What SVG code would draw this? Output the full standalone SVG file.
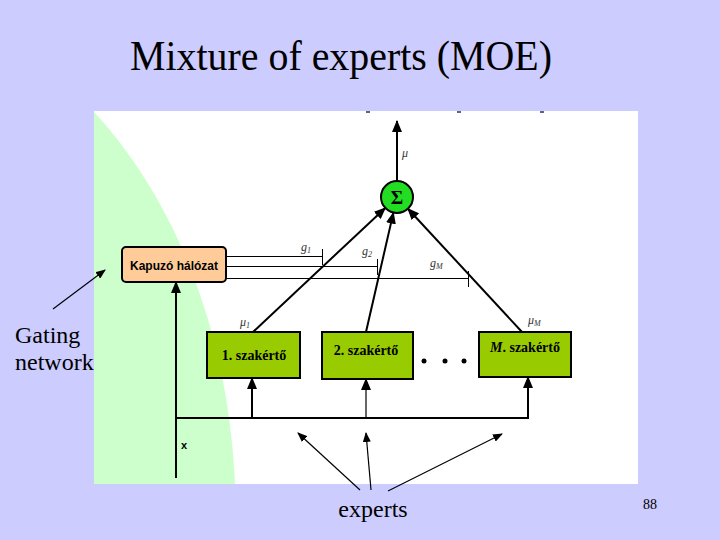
<svg xmlns="http://www.w3.org/2000/svg" width="720" height="540" viewBox="0 0 720 540">
<defs>
<marker id="ah" markerUnits="userSpaceOnUse" markerWidth="12" markerHeight="10" refX="11" refY="5" orient="auto">
<path d="M0,0 L12,5 L0,10 Z" fill="#000"/>
</marker>
<marker id="ahs" markerUnits="userSpaceOnUse" markerWidth="10" markerHeight="8" refX="9" refY="4" orient="auto">
<path d="M0,0 L10,4 L0,8 Z" fill="#000"/>
</marker>
<style>
.serif{font-family:"Liberation Serif","Times New Roman",serif;fill:#000}
.sans{font-family:"Liberation Sans",Arial,sans-serif;fill:#000}
.expert{fill:#99CC00;stroke:#000;stroke-width:2}
.thick{stroke:#000;stroke-width:2;fill:none}
.thin{stroke:#000;stroke-width:1.2;fill:none}
.gate{stroke:#000;stroke-width:1;fill:none}
.lbl{font-family:"Liberation Serif","Times New Roman",serif;font-style:italic;font-size:12px;fill:#333}
.sub{font-size:8px}
.etxt{font-family:"Liberation Serif","Times New Roman",serif;font-weight:bold;font-size:14px;fill:#000}
</style>
</defs>
<rect x="0" y="0" width="720" height="540" fill="#CCCCFF"/>
<rect x="94" y="111" width="544" height="373" fill="#FFFFFF"/>
<path d="M94,112 C175,200 228,330 235,484 L94,484 Z" fill="#CCFFCC"/>
<g id="artifacts" fill="#556688">
<rect x="366" y="111" width="4" height="2"/>
<rect x="457" y="111" width="4" height="2"/>
<rect x="540" y="111" width="4" height="2"/>
</g>
<text class="serif" x="130" y="70" font-size="42" textLength="422" lengthAdjust="spacingAndGlyphs">Mixture of experts (MOE)</text>

<g id="connectors">
<line class="thick" x1="397" y1="181" x2="397" y2="121" marker-end="url(#ah)"/>
<line class="thick" x1="253" y1="332" x2="385.3" y2="207.9" marker-end="url(#ah)"/>
<line class="thick" x1="366" y1="332" x2="393.4" y2="212.6" marker-end="url(#ah)"/>
<line class="thick" x1="522" y1="332" x2="407.9" y2="208.7" marker-end="url(#ah)"/>
<line class="gate" x1="226" y1="256.5" x2="322" y2="256.5"/>
<line class="gate" x1="322.5" y1="249" x2="322.5" y2="265"/>
<line class="gate" x1="226" y1="266.5" x2="377" y2="266.5"/>
<line class="gate" x1="377.5" y1="259" x2="377.5" y2="275"/>
<line class="gate" x1="226" y1="278.5" x2="468" y2="278.5"/>
<line class="gate" x1="468.5" y1="271" x2="468.5" y2="287"/>
<line class="thick" x1="176" y1="478" x2="176" y2="282" marker-end="url(#ah)"/>
<line class="thick" x1="175" y1="418" x2="529" y2="418"/>
<line class="thick" x1="252" y1="418" x2="252" y2="378" marker-end="url(#ah)"/>
<line class="thin" x1="366" y1="418" x2="366" y2="379" marker-end="url(#ah)"/>
<line class="thick" x1="528" y1="418" x2="528" y2="377" marker-end="url(#ah)"/>
<line class="thin" x1="53" y1="309" x2="105" y2="270" stroke-width="1.5" marker-end="url(#ahs)"/>
<line class="thin" x1="360" y1="490" x2="298" y2="433" stroke-width="1.5" marker-end="url(#ahs)"/>
<line class="thin" x1="371" y1="490" x2="366" y2="433" stroke-width="1.5" marker-end="url(#ahs)"/>
<line class="thin" x1="388" y1="491" x2="502" y2="434" stroke-width="1.5" marker-end="url(#ahs)"/>
</g>

<g id="sigma">
<circle cx="397" cy="197" r="16" fill="#22DD22" stroke="#000" stroke-width="2"/>
<text class="serif" x="397" y="204" font-size="19" font-weight="bold" text-anchor="middle">Σ</text>
</g>
<g id="gating">
<rect x="122" y="247" width="104" height="35" rx="4" fill="#FFCC99" stroke="#000" stroke-width="2"/>
<text class="sans" x="174" y="270" font-size="12" font-weight="bold" text-anchor="middle">Kapuzó hálózat</text>
</g>
<g id="expert1">
<rect class="expert" x="207" y="332" width="93" height="46"/>
<text class="etxt" x="254" y="360" text-anchor="middle">1. szakértő</text>
</g>
<g id="expert2">
<rect class="expert" x="322" y="332" width="91" height="47"/>
<text class="etxt" x="366" y="355" text-anchor="middle">2. szakértő</text>
</g>
<g id="dots" fill="#000">
<circle cx="424" cy="361" r="2.5"/>
<circle cx="445" cy="361" r="2.5"/>
<circle cx="464" cy="361" r="2.5"/>
</g>
<g id="expertM">
<rect class="expert" x="479" y="332" width="92" height="45"/>
<text class="etxt" x="525" y="352" text-anchor="middle"><tspan font-style="italic">M</tspan>. szakértő</text>
</g>

<g id="labels">
<text class="lbl" x="402" y="157">μ</text>
<text class="lbl" x="301" y="251">g<tspan class="sub" dy="2">1</tspan></text>
<text class="lbl" x="362" y="255">g<tspan class="sub" dy="2">2</tspan></text>
<text class="lbl" x="430" y="267">g<tspan class="sub" dy="2">M</tspan></text>
<text class="lbl" x="240" y="326">μ<tspan class="sub" dy="2">1</tspan></text>
<text class="lbl" x="528" y="324">μ<tspan class="sub" dy="2">M</tspan></text>
<text class="sans" x="181" y="449" font-size="11" font-weight="bold">x</text>
</g>

<text class="serif" x="15" y="343" font-size="24">Gating</text>
<text class="serif" x="15" y="370" font-size="24">network</text>
<text class="serif" x="373" y="517" font-size="24" text-anchor="middle">experts</text>
<text class="serif" x="643" y="509" font-size="14">88</text>
</svg>
